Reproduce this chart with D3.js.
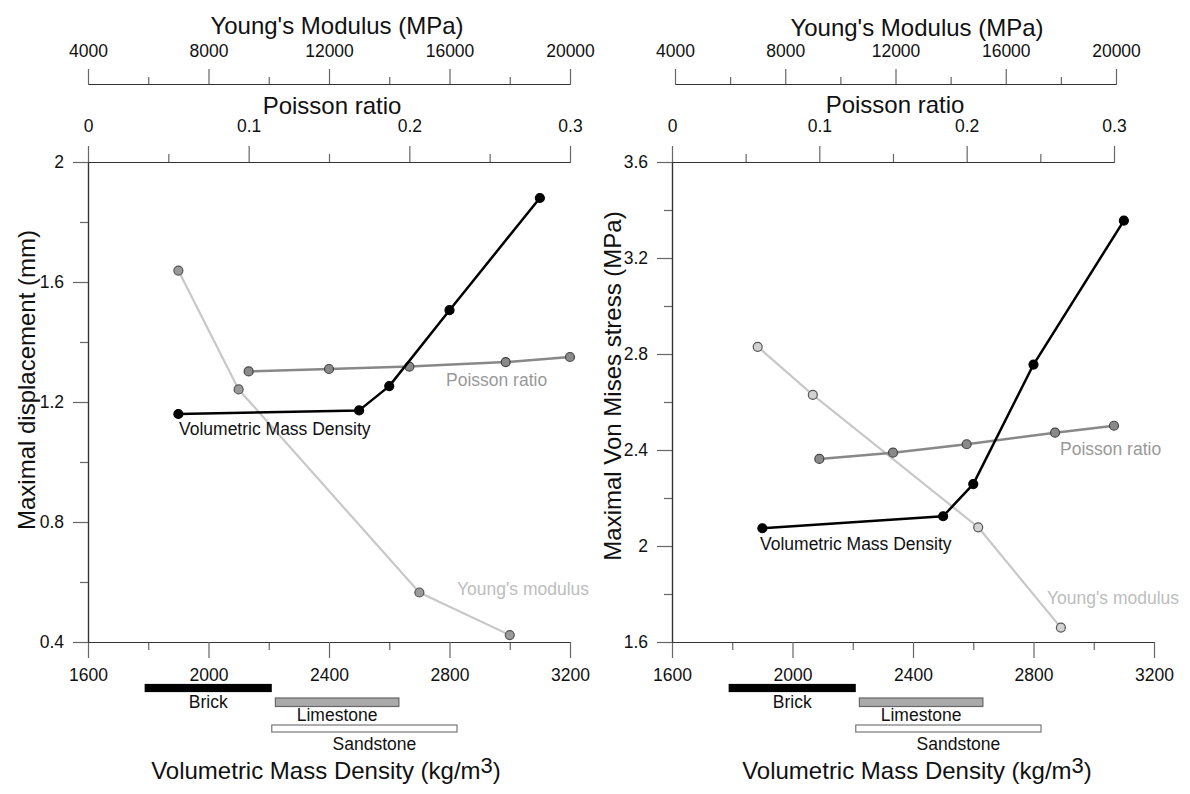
<!DOCTYPE html>
<html>
<head>
<meta charset="utf-8">
<script src="https://cdn.jsdelivr.net/npm/d3@7"></script>
<style>
  body { margin: 0; background: #fff; }
  text { font-family: "Liberation Sans", Arial, sans-serif; fill: #111; }
</style>
</head>
<body>
<div id="chart"></div>
<script>
// --- Data ---

// x values of the three parameter sweeps
const densityValues = [1900, 2500, 2600, 2800, 3100]       // kg/m3
const poissonValues = [0.1, 0.15, 0.2, 0.26, 0.3]
const youngValues = [7000, 9000, 15000, 18000]             // MPa

// left panel : maximal displacement (mm)
const dispDensity = [1.16, 1.172, 1.253, 1.506, 1.88]
const dispPoisson = [1.302, 1.31, 1.318, 1.333, 1.35]
const dispYoung = [1.638, 1.242, 0.565, 0.423]

// right panel : maximal Von Mises stress (MPa)
const stressDensity = [2.074, 2.124, 2.258, 2.756, 3.356]
const stressPoisson = [2.363, 2.389, 2.424, 2.472, 2.501]
const stressYoung = [2.83, 2.63, 2.078, 1.66]

// material density ranges shown under the x axis
const materials = ["Brick", "Limestone", "Sandstone"]
const materialMin = [1790, 2222, 2210]
const materialMax = [2208, 2632, 2825]

// tick labels
const densityTicks = [1600, 2000, 2400, 2800, 3200]
const densityMinor = [1800, 2200, 2600, 3000]
const youngTicks = [4000, 8000, 12000, 16000, 20000]
const youngMinor = [6000, 10000, 14000, 18000]
const poissonTicks = [0, 0.1, 0.2, 0.3]
const poissonMinor = [0.05, 0.15, 0.25]
const dispTicks = [0.4, 0.8, 1.2, 1.6, 2]
const dispMinor = [0.6, 1.0, 1.4, 1.8]
const stressTicks = [1.6, 2, 2.4, 2.8, 3.2, 3.6]
const stressMinor = [1.8, 2.2, 2.6, 3.0, 3.4]

const w = 1190
const h = 794
const plotTop = 162
const plotH = 480
const plotW = 482
const tickFont = "17.5px"

const svg = d3.select("#chart")
              .append("svg")
                .attr("width", w)
                .attr("height", h)

// panel layout
const panels = [
  {
    left: 88, topEnd: 482, youngStart: 0, youngEnd: 482,
    yDomain: [0.4, 2], yTicks: dispTicks, yMinor: dispMinor,
    yTitle: "Maximal displacement (mm)", yTitleX: 26, yTitleY: 380,
    dens: dispDensity, pois: dispPoisson, young: dispYoung,
    youngFill: "#9a9a9a",
    youngTitleX: 337, youngTitleY: 25, poisTitleX: 332, poisTitleY: 105,
    xTitleX: 326,
    lbl: { dens: [91, 267], pois: [358, 218], young: [369, 427] }
  },
  {
    left: 672, topEnd: 442, youngStart: 3, youngEnd: 444,
    yDomain: [1.6, 3.6], yTicks: stressTicks, yMinor: stressMinor,
    yTitle: "Maximal Von Mises stress (MPa)", yTitleX: 612, yTitleY: 386,
    dens: stressDensity, pois: stressPoisson, young: stressYoung,
    youngFill: "#d2d2d2",
    youngTitleX: 917, youngTitleY: 27, poisTitleX: 895, poisTitleY: 104,
    xTitleX: 917,
    lbl: { dens: [88, 382], pois: [388, 287], young: [375, 436] }
  }
]

const styleAxis = (g) => {
  g.select(".domain").attr("stroke", "#333").attr("stroke-width", 1.2)
  g.selectAll(".tick line").attr("stroke", "#666").attr("stroke-width", 1.2)
  g.selectAll("text").style("font-size", tickFont).attr("fill", "#111")
}

const drawPanel = (p) => {
  const g = svg.append("g").attr("transform", `translate(${p.left},${plotTop})`)

  const xDens = d3.scaleLinear().domain([1600, 3200]).range([0, plotW])
  const xPois = d3.scaleLinear().domain([0, 0.3]).range([0, p.topEnd])
  const xYoung = d3.scaleLinear().domain([4000, 20000]).range([p.youngStart, p.youngEnd])
  const y = d3.scaleLinear().domain(p.yDomain).range([plotH, 0])

  // bottom density axis
  g.append("g").attr("transform", `translate(0,${plotH})`)
    .call(d3.axisBottom(xDens).tickValues(densityMinor).tickSize(8).tickFormat("").tickSizeOuter(0))
    .call(styleAxis)
  g.append("g").attr("transform", `translate(0,${plotH})`)
    .call(d3.axisBottom(xDens).tickValues(densityTicks).tickSize(16).tickPadding(11).tickFormat(d => d).tickSizeOuter(0))
    .call(styleAxis)

  // left axis
  g.append("g")
    .call(d3.axisLeft(y).tickValues(p.yMinor).tickSize(8).tickFormat("").tickSizeOuter(0))
    .call(styleAxis)
  g.append("g")
    .call(d3.axisLeft(y).tickValues(p.yTicks).tickSize(15).tickPadding(9).tickFormat(d => d).tickSizeOuter(0))
    .call(styleAxis)

  // top Poisson axis (forms the top of the frame)
  g.append("g")
    .call(d3.axisTop(xPois).tickValues(poissonMinor).tickSize(8).tickFormat("").tickSizeOuter(0))
    .call(styleAxis)
  g.append("g")
    .call(d3.axisTop(xPois).tickValues(poissonTicks).tickSize(16).tickPadding(14).tickFormat(d => d).tickSizeOuter(0))
    .call(styleAxis)

  // Young's modulus axis above
  const yAxisY = -78
  g.append("g").attr("transform", `translate(0,${yAxisY})`)
    .call(d3.axisTop(xYoung).tickValues(youngMinor).tickSize(7).tickFormat("").tickSizeOuter(0))
    .call(styleAxis)
  g.append("g").attr("transform", `translate(0,${yAxisY})`)
    .call(d3.axisTop(xYoung).tickValues(youngTicks).tickSize(15).tickPadding(12).tickFormat(d => d).tickSizeOuter(0))
    .call(styleAxis)

  // titles
  svg.append("text").attr("x", p.youngTitleX).attr("y", p.youngTitleY)
    .attr("text-anchor", "middle").attr("dominant-baseline", "central")
    .style("font-size", "24px").text("Young's Modulus (MPa)")
  svg.append("text").attr("x", p.poisTitleX).attr("y", p.poisTitleY)
    .attr("text-anchor", "middle").attr("dominant-baseline", "central")
    .style("font-size", "24px").text("Poisson ratio")
  svg.append("text")
    .attr("transform", `translate(${p.yTitleX},${p.yTitleY}) rotate(-90)`)
    .attr("text-anchor", "middle").attr("dominant-baseline", "central")
    .style("font-size", "24px").text(p.yTitle)

  const xt = svg.append("text").attr("x", p.xTitleX).attr("y", 779)
    .attr("text-anchor", "middle").style("font-size", "24px")
  xt.append("tspan").text("Volumetric Mass Density (kg/m")
  xt.append("tspan").attr("dy", -6).style("font-size", "22px").text("3")
  xt.append("tspan").attr("dy", 6).text(")")

  // material range bars
  const barY = [42.5, 56, 83]
  const barH = [7, 8.5, 7]
  const barFill = ["#000", "#aaa", "#fff"]
  const barStroke = ["#000", "#666", "#777"]
  const lblY = [60, 73, 101.5]
  materials.forEach((m, i) => {
    g.append("rect")
      .attr("x", xDens(materialMin[i]))
      .attr("y", plotH + barY[i])
      .attr("width", xDens(materialMax[i]) - xDens(materialMin[i]))
      .attr("height", barH[i])
      .attr("fill", barFill[i])
      .attr("stroke", barStroke[i])
      .attr("stroke-width", 1.2)
    g.append("text")
      .attr("x", xDens((materialMin[i] + materialMax[i]) / 2) + (i == 2 ? 10 : 0))
      .attr("y", plotH + lblY[i])
      .attr("text-anchor", "middle").attr("dominant-baseline", "central")
      .style("font-size", "17.5px")
      .text(m)
  })

  // series
  const series = [
    { xs: youngValues, ys: p.young, sx: xYoung, line: "#c8c8c8", lw: 2.2, fill: p.youngFill, stroke: "#555" },
    { xs: poissonValues, ys: p.pois, sx: xPois, line: "#888", lw: 2.5, fill: "#8a8a8a", stroke: "#444" },
    { xs: densityValues, ys: p.dens, sx: xDens, line: "#000", lw: 2.5, fill: "#000", stroke: "#000" }
  ]
  series.forEach(s => {
    const pts = s.xs.map((v, i) => [s.sx(v), y(s.ys[i])])
    g.append("path")
      .attr("d", d3.line()(pts))
      .attr("fill", "none")
      .attr("stroke", s.line)
      .attr("stroke-width", s.lw)
      .attr("stroke-linejoin", "round")
    g.selectAll(null)
      .data(pts)
      .join("circle")
        .attr("cx", d => d[0])
        .attr("cy", d => d[1])
        .attr("r", 4.5)
        .attr("fill", s.fill)
        .attr("stroke", s.stroke)
        .attr("stroke-width", 1.2)
  })

  // series labels
  const lbls = [
    ["Volumetric Mass Density", p.lbl.dens, "#111"],
    ["Poisson ratio", p.lbl.pois, "#999"],
    ["Young's modulus", p.lbl.young, "#bdbdbd"]
  ]
  lbls.forEach(l => {
    g.append("text")
      .attr("x", l[1][0]).attr("y", l[1][1])
      .attr("dominant-baseline", "central")
      .style("fill", l[2])
      .style("font-size", "17.5px")
      .text(l[0])
  })
}

panels.forEach(drawPanel)
</script>
</body>
</html>
